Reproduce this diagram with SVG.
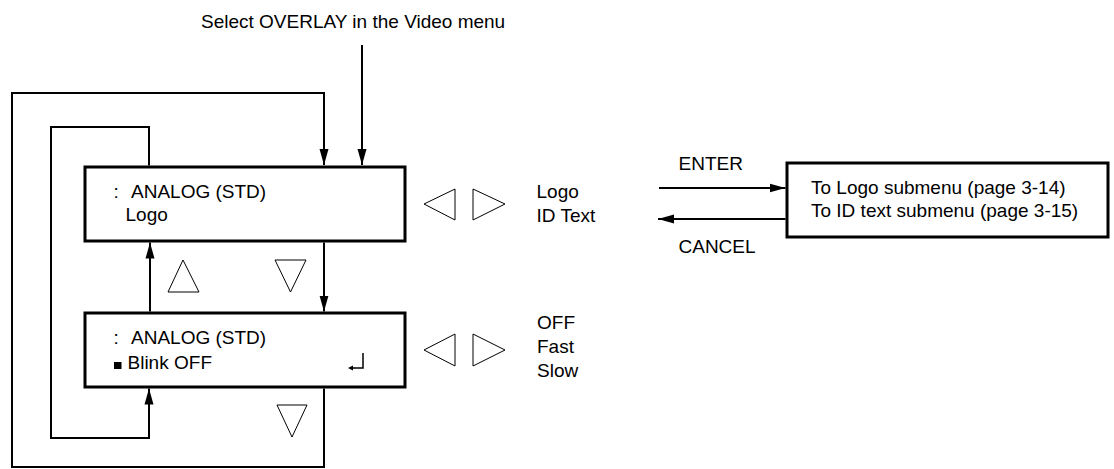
<svg xmlns="http://www.w3.org/2000/svg" width="1114" height="469" viewBox="0 0 1114 469">
<style>
  text { font-family: "Liberation Sans", Arial, sans-serif; font-size: 19px; fill: #000; }
  .box { fill: #fff; stroke: #000; stroke-width: 3; }
  .conn { fill: none; stroke: #000; stroke-width: 2; }
  .tri { fill: none; stroke: #000; stroke-width: 1; stroke-linejoin: miter; }
</style>
<defs>
  <marker id="ah" viewBox="0 0 16 10" refX="16" refY="5" markerWidth="16" markerHeight="10" markerUnits="userSpaceOnUse" orient="auto">
    <path d="M0,0.5 L16,5 L0,9.5 z" fill="#000"/>
  </marker>
</defs>
<rect width="1114" height="469" fill="#fff"/>

<g id="title">
  <text x="201" y="28">Select OVERLAY in the Video menu</text>
</g>

<g id="connectors">
  <path class="conn" d="M362,45 V165" marker-end="url(#ah)"/>
  <path class="conn" d="M324,388.5 V467 H12 V93 H324 V165" marker-end="url(#ah)"/>
  <path class="conn" d="M149,165.5 V127 H51 V438 H149 V388.5" marker-end="url(#ah)"/>
  <path class="conn" d="M150,311.5 V242.5" marker-end="url(#ah)"/>
  <path class="conn" d="M324,242.5 V311.5" marker-end="url(#ah)"/>
  <path class="conn" d="M659,188 H785.5" marker-end="url(#ah)"/>
  <path class="conn" d="M785.5,219 H658" marker-end="url(#ah)"/>
  <text x="678.5" y="170">ENTER</text>
  <text x="678.5" y="253">CANCEL</text>
</g>

<g id="node-overlay-logo">
  <rect class="box" x="85" y="167" width="320" height="74"/>
  <text x="113.5" y="198">:<tspan x="131">ANALOG (STD)</tspan></text>
  <text x="125.5" y="221">Logo</text>
</g>

<g id="node-overlay-blink">
  <rect class="box" x="85" y="313" width="320" height="74"/>
  <text x="113.5" y="344">:<tspan x="131">ANALOG (STD)</tspan></text>
  <rect x="114" y="362" width="7.5" height="7" fill="#000"/>
  <text x="127.5" y="369">Blink<tspan x="174">OFF</tspan></text>
  <path d="M363,353 V368 H352" fill="none" stroke="#000" stroke-width="1.5"/>
  <path d="M348,368 L353,365.5 L353,370.5 z" fill="#000"/>
</g>

<g id="nav-updown">
  <polygon class="tri" points="183,260 168,292 199,292"/>
  <polygon class="tri" points="275,260 306,260 290.5,292"/>
  <polygon class="tri" points="277,405 307,405 292,437"/>
</g>

<g id="options-logo">
  <polygon class="tri" points="424,204 455,189 455,220"/>
  <polygon class="tri" points="473,189 473,220 505,204"/>
  <text x="536.5" y="198">Logo</text>
  <text x="536.5" y="222">ID Text</text>
</g>

<g id="options-blink">
  <polygon class="tri" points="424,350 455,334 455,366"/>
  <polygon class="tri" points="473,334 473,366 505,350"/>
  <text x="537" y="329">OFF</text>
  <text x="537" y="353">Fast</text>
  <text x="537" y="377">Slow</text>
</g>

<g id="node-submenus">
  <rect class="box" x="787" y="163" width="321" height="74"/>
  <text x="811" y="194">To Logo submenu (page 3-14)</text>
  <text x="811" y="217">To ID text submenu (page 3-15)</text>
</g>
</svg>
